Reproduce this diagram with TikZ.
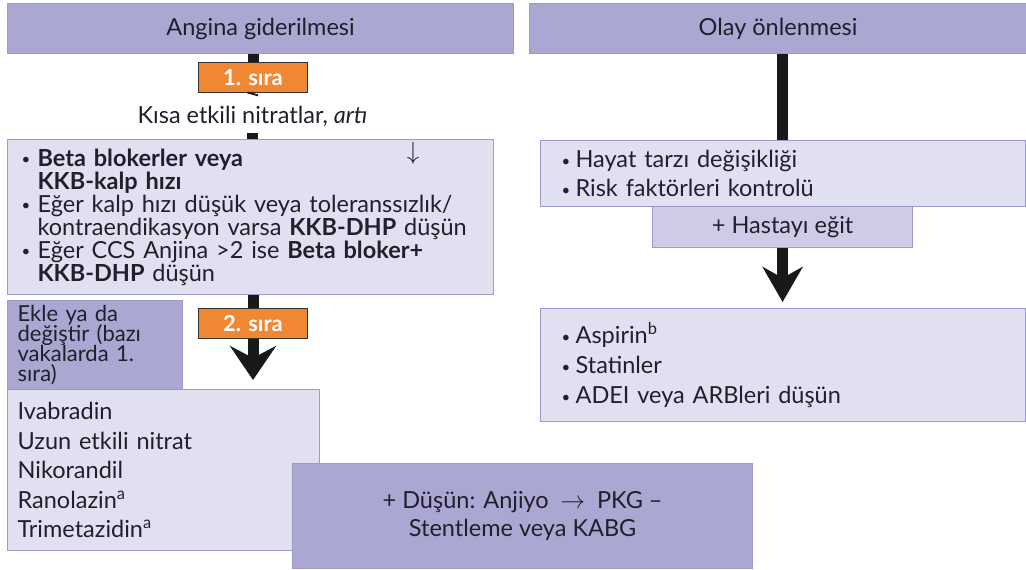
\documentclass[tikz,border=0pt]{standalone}
\usepackage{fontspec}
\setmainfont{Lato}
\usetikzlibrary{arrows.meta}
\definecolor{hdr}{HTML}{AAA7D2}
\definecolor{lite}{HTML}{E1E0F0}
\definecolor{mid}{HTML}{CDCBE6}
\definecolor{edge}{HTML}{9D9AC9}
\definecolor{orng}{HTML}{F08733}
\definecolor{ink}{HTML}{231E2C}
% fixed line pitch, whatever the glyph heights
\newcommand{\pitchat}[2]{\fontsize{#1}{#2}\selectfont\lineskiplimit=-30pt\lineskip=0pt}
\newcommand{\pitch}[1]{\pitchat{23.5}{#1}}
% small list bullet in a box of given width
\newcommand{\dotmark}[1]{\makebox[#1][l]{\hspace{1pt}{\fontsize{15}{15}\selectfont\raisebox{1.5pt}{\textbullet}}}}
\newcommand{\itm}{\dotmark{17pt}}
\newcommand{\cnt}{\hspace*{17pt}}

\begin{document}
\begin{tikzpicture}[x=1pt,y=-1pt,
  every node/.style={text=ink, font=\pitch{28}},
  box/.style={draw=edge, line width=1.2pt, rectangle, anchor=north west, inner sep=0pt},
  dark/.style={box, fill=hdr},
  light/.style={box, fill=lite},
  tag/.style={draw=black!80, line width=1pt, fill=orng, text=white,
    font=\fontsize{22}{24}\selectfont\bfseries, minimum width=109pt,
    minimum height=30pt, inner sep=0pt, anchor=north west},
  shaft/.style={line width=11pt, draw=black!90},
]
\useasboundingbox (0,0) rectangle (1026,570);

% column headers
\node[dark, minimum width=506pt, minimum height=50pt] (angina) at (7,3) {Angina giderilmesi};
\node[dark, minimum width=497pt, minimum height=50pt] (olay) at (529,3) {Olay önlenmesi};

% left column: first line treatment
\node[tag] (sira1) at (198,62) {1. sıra};
\node[inner sep=0pt, text height=28pt, text depth=10pt]
  (kisa) at (252.5,114) {Kısa etkili nitratlar, \textit{artı}};

\node[light, minimum width=486pt, minimum height=155pt, inner xsep=13pt,
  text width=460pt, align=left, font=\pitch{23}] (beta) at (7,139) {%
  \itm\textbf{Beta blokerler veya}\\
  \cnt\textbf{KKB-kalp hızı}\\
  \itm Eğer kalp hızı düşük veya toleranssızlık/\\
  \cnt kontraendikasyon varsa \textbf{KKB-DHP} düşün\\
  \itm Eğer CCS Anjina >2 ise \textbf{Beta bloker+}\\
  \cnt\textbf{KKB-DHP} düşün};
\node[inner sep=0pt] (down) at (413,153) {$\downarrow$};

% left column: second line treatment
\node[light, minimum width=312pt, minimum height=161pt, inner xsep=10pt,
  text width=292pt, align=left, font=\pitch{29.5}] (list) at (7,389)
  {Ivabradin\\Uzun etkili nitrat\\Nikorandil\\Ranolazin\textsuperscript{a}\\Trimetazidin\textsuperscript{a}};
\node[dark, minimum width=175pt, minimum height=89pt, inner xsep=10pt,
  text width=155pt, align=left, font={\pitchat{22}{20}}] (ekle) at (7,300)
  {Ekle ya da\\değiştir (bazı\\vakalarda 1.\\sıra)};
\node[tag] (sira2) at (198,308) {2. sıra};

\node[dark, minimum width=460pt, minimum height=105pt, align=center,
  font=\pitch{28}] (dusun) at (292,463)
  {+ Düşün: Anjiyo\enspace$\rightarrow$\enspace PKG –\\Stentleme veya KABG};

% right column
\node[light, minimum width=485pt, minimum height=66pt, inner xsep=20pt,
  text width=445pt, align=left, font=\pitch{29}] (hayat) at (540,140)
  {\dotmark{15pt}Hayat tarzı değişikliği\\\dotmark{15pt}Risk faktörleri kontrolü};
\node[box, fill=mid, minimum width=260pt, minimum height=41pt] (hasta) at (652,206) {+ Hastayı eğit};
\node[light, minimum width=485pt, minimum height=113pt, inner xsep=20pt,
  text width=445pt, align=left, font=\pitch{30}] (aspirin) at (540,308)
  {\dotmark{15pt}Aspirin\textsuperscript{b}\\\dotmark{15pt}Statinler\\\dotmark{15pt}ADEI veya ARBleri düşün};

% connectors, left
\draw[shaft] (angina.south -| sira1.north) -- (sira1.north);
\draw[shaft] (sira1.south) -- (kisa.north);
\draw[shaft] (kisa.south) -- (kisa.south |- beta.north);
\draw[shaft] (beta.south -| sira2.north) -- (sira2.north);
\draw[shaft, -{Stealth[length=34pt,width=46pt,inset=12pt]}, shorten >=9pt]
  (sira2.south) -- (sira2.south |- list.north);

% connectors, right
\draw[shaft] (olay.south -| hasta.north) -- (hayat.north -| hasta.north);
\draw[shaft, -{Stealth[length=35pt,width=40pt,inset=11pt]}, shorten >=6pt]
  (hasta.south) -- (hasta.south |- aspirin.north);
\end{tikzpicture}
\end{document}
